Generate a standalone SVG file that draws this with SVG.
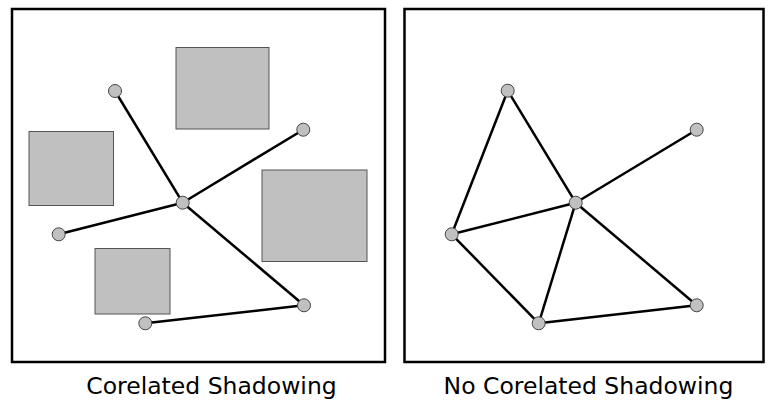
<svg xmlns="http://www.w3.org/2000/svg" width="768" height="400" viewBox="0 0 768 400">
<style>
.frame{fill:#fff;stroke:#000;stroke-width:2.5}
.obs{fill:#c0c0c0;stroke:#555;stroke-width:1}
.edge{stroke:#000;stroke-width:2.5;fill:none}
.node{fill:#c0c0c0;stroke:#444;stroke-width:1}
.lbl{font-family:"DejaVu Sans",sans-serif;font-size:23.5px;fill:#000;text-anchor:middle}
</style>
<rect width="768" height="400" fill="#fff"/>
<g id="frame-left"><rect class="frame" x="12" y="9" width="373" height="353"/></g>
<g id="frame-right"><rect class="frame" x="404.5" y="9" width="359" height="353"/></g>
<g id="obstacles">
<rect class="obs" x="176" y="47.5" width="93" height="81.5"/>
<rect class="obs" x="29" y="131.5" width="84.5" height="74"/>
<rect class="obs" x="262" y="170" width="105" height="91.5"/>
<rect class="obs" x="95" y="248.5" width="75" height="65.5"/>
</g>
<g id="connectors">
<line class="edge" x1="115" y1="91" x2="182.7" y2="202.7"/>
<line class="edge" x1="303.3" y1="129.7" x2="182.7" y2="202.7"/>
<line class="edge" x1="58.7" y1="234.3" x2="182.7" y2="202.7"/>
<line class="edge" x1="304" y1="305.3" x2="182.7" y2="202.7"/>
<line class="edge" x1="304" y1="305.3" x2="145.3" y2="323.3"/>
<line class="edge" x1="507.7" y1="90.7" x2="451.7" y2="234.3"/>
<line class="edge" x1="507.7" y1="90.7" x2="575.7" y2="202.7"/>
<line class="edge" x1="696.7" y1="129.7" x2="575.7" y2="202.7"/>
<line class="edge" x1="451.7" y1="234.3" x2="575.7" y2="202.7"/>
<line class="edge" x1="538.7" y1="323.3" x2="575.7" y2="202.7"/>
<line class="edge" x1="696.7" y1="305.3" x2="575.7" y2="202.7"/>
<line class="edge" x1="451.7" y1="234.3" x2="538.7" y2="323.3"/>
<line class="edge" x1="538.7" y1="323.3" x2="696.7" y2="305.3"/>
</g>
<g id="n1"><circle class="node" cx="115" cy="91" r="6.5"/></g>
<g id="n2"><circle class="node" cx="303.3" cy="129.7" r="6.5"/></g>
<g id="n3"><circle class="node" cx="182.7" cy="202.7" r="6.5"/></g>
<g id="n4"><circle class="node" cx="58.7" cy="234.3" r="6.5"/></g>
<g id="n5"><circle class="node" cx="304" cy="305.3" r="6.5"/></g>
<g id="n6"><circle class="node" cx="145.3" cy="323.3" r="6.5"/></g>
<g id="m1"><circle class="node" cx="507.7" cy="90.7" r="6.5"/></g>
<g id="m2"><circle class="node" cx="696.7" cy="129.7" r="6.5"/></g>
<g id="m3"><circle class="node" cx="575.7" cy="202.7" r="6.5"/></g>
<g id="m4"><circle class="node" cx="451.7" cy="234.3" r="6.5"/></g>
<g id="m5"><circle class="node" cx="696.7" cy="305.3" r="6.5"/></g>
<g id="m6"><circle class="node" cx="538.7" cy="323.3" r="6.5"/></g>
<g id="labels">
<text class="lbl" x="211.5" y="393.5">Corelated Shadowing</text>
<text class="lbl" x="588.5" y="393.5">No Corelated Shadowing</text>
</g>
</svg>
